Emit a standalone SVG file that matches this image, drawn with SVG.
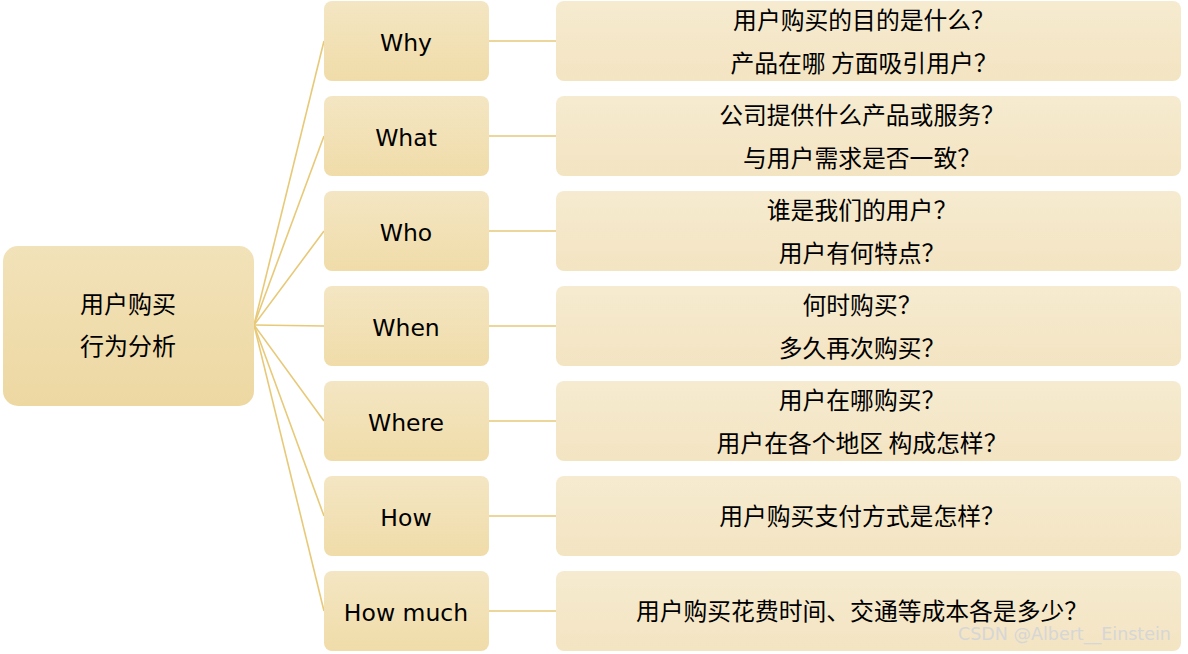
<svg xmlns="http://www.w3.org/2000/svg" width="1188" height="654" viewBox="0 0 1188 654">
<defs>
<linearGradient id="gRoot" x1="0" y1="0" x2="0" y2="1"><stop offset="0" stop-color="#F2E2B9"/><stop offset="1" stop-color="#EDD8A2"/></linearGradient>
<linearGradient id="gMid" x1="0" y1="0" x2="0" y2="1"><stop offset="0" stop-color="#F4E6C3"/><stop offset="1" stop-color="#F0DCA9"/></linearGradient>
<linearGradient id="gRight" x1="0" y1="0" x2="0" y2="1"><stop offset="0" stop-color="#F6EBD0"/><stop offset="1" stop-color="#F3E4C2"/></linearGradient>
</defs>
<style>
.root{fill:url(#gRoot)}
.mid{fill:url(#gMid)}
.right{fill:url(#gRight)}
.en{font-family:"DejaVu Sans",Verdana,sans-serif;font-size:23.5px;fill:#000;text-anchor:middle}
.zh{font-family:"Noto Sans CJK SC","Noto Sans",sans-serif;font-size:23.8px;fill:#000;text-anchor:middle}
.conn line{stroke:#E7C978;stroke-width:1.6;fill:none}
.wm{font-family:"DejaVu Sans",sans-serif;font-size:17.5px;fill:#D6D6D6}
</style>
<rect width="1188" height="654" fill="#FFFFFF"/>
<g id="connectors" class="conn">
<line x1="254" y1="325" x2="324" y2="41"/>
<line x1="254" y1="325" x2="324" y2="136"/>
<line x1="254" y1="325" x2="324" y2="231"/>
<line x1="254" y1="325" x2="324" y2="326"/>
<line x1="254" y1="325" x2="324" y2="421"/>
<line x1="254" y1="325" x2="324" y2="516"/>
<line x1="254" y1="325" x2="324" y2="611"/>
<line x1="488" y1="41" x2="556" y2="41"/>
<line x1="488" y1="136" x2="556" y2="136"/>
<line x1="488" y1="231" x2="556" y2="231"/>
<line x1="488" y1="326" x2="556" y2="326"/>
<line x1="488" y1="421" x2="556" y2="421"/>
<line x1="488" y1="516" x2="556" y2="516"/>
<line x1="488" y1="611" x2="556" y2="611"/>
</g>
<g id="root">
<rect class="root" x="3" y="246" width="251" height="160" rx="15"/>
<text class="zh" x="128" y="313" style="font-size:24px">用户购买</text>
<text class="zh" x="128" y="355" style="font-size:24px">行为分析</text>
</g>
<g id="why">
<rect class="mid" x="324" y="1" width="165" height="80" rx="8"/>
<text class="en" x="406" y="51">Why</text>
</g>
<g id="what">
<rect class="mid" x="324" y="96" width="165" height="80" rx="8"/>
<text class="en" x="406" y="146">What</text>
</g>
<g id="who">
<rect class="mid" x="324" y="191" width="165" height="80" rx="8"/>
<text class="en" x="406" y="241">Who</text>
</g>
<g id="when">
<rect class="mid" x="324" y="286" width="165" height="80" rx="8"/>
<text class="en" x="406" y="336">When</text>
</g>
<g id="where">
<rect class="mid" x="324" y="381" width="165" height="80" rx="8"/>
<text class="en" x="406" y="431">Where</text>
</g>
<g id="how">
<rect class="mid" x="324" y="476" width="165" height="80" rx="8"/>
<text class="en" x="406" y="526">How</text>
</g>
<g id="howmuch">
<rect class="mid" x="324" y="571" width="165" height="80" rx="8"/>
<text class="en" x="406" y="621">How much</text>
</g>
<g id="why-detail">
<rect class="right" x="556" y="1" width="625" height="80" rx="8"/>
<text class="zh" x="864" y="29">用户购买的目的是什么？</text>
<text class="zh" x="864" y="72">产品在哪 方面吸引用户？</text>
</g>
<g id="what-detail">
<rect class="right" x="556" y="96" width="625" height="80" rx="8"/>
<text class="zh" x="862" y="124">公司提供什么产品或服务？</text>
<text class="zh" x="862" y="167">与用户需求是否一致？</text>
</g>
<g id="who-detail">
<rect class="right" x="556" y="191" width="625" height="80" rx="8"/>
<text class="zh" x="862" y="219">谁是我们的用户？</text>
<text class="zh" x="862" y="262">用户有何特点？</text>
</g>
<g id="when-detail">
<rect class="right" x="556" y="286" width="625" height="80" rx="8"/>
<text class="zh" x="862" y="314">何时购买？</text>
<text class="zh" x="862" y="357">多久再次购买？</text>
</g>
<g id="where-detail">
<rect class="right" x="556" y="381" width="625" height="80" rx="8"/>
<text class="zh" x="862" y="409">用户在哪购买？</text>
<text class="zh" x="862" y="452">用户在各个地区 构成怎样？</text>
</g>
<g id="how-detail">
<rect class="right" x="556" y="476" width="625" height="80" rx="8"/>
<text class="zh" x="862" y="525">用户购买支付方式是怎样？</text>
</g>
<g id="howmuch-detail">
<rect class="right" x="556" y="571" width="625" height="80" rx="8"/>
<text class="zh" x="862" y="620">用户购买花费时间、交通等成本各是多少？</text>
</g>
<text class="wm" x="958" y="640">CSDN @Albert__Einstein</text>
</svg>
